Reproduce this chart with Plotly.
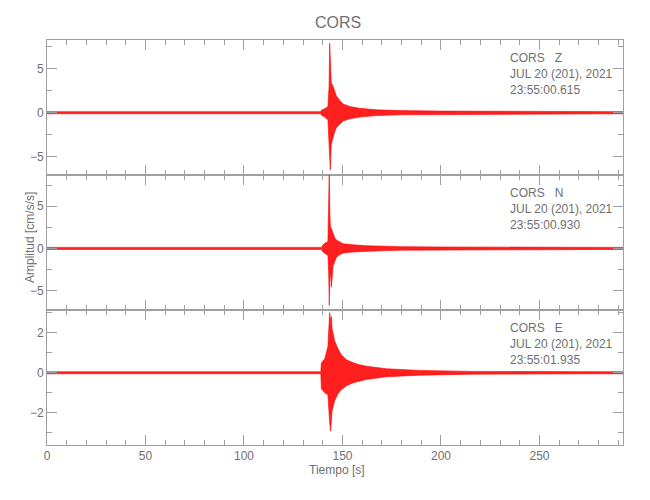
import plotly.graph_objects as go
from plotly.subplots import make_subplots

# ---- data: min/max envelope of each trace ----
t_end = 292.4

z_time  = [0, 139.0, 139.4, 141.0, 142.6, 143.2, 143.5, 143.8, 144.3, 145.2, 146.0, 146.9, 148.6, 150.3, 153.7, 158.7, 167.2, 179.0, 200.0, 240.0, 292.4]
z_upper = [0.12, 0.12, 0.3, 0.45, 0.7, 3.0, 7.9, 5.0, 3.4, 3.0, 2.4, 1.9, 1.4, 1.0, 0.7, 0.5, 0.33, 0.24, 0.18, 0.14, 0.12]
z_lower = [-0.12, -0.12, -0.3, -0.5, -0.8, -3.0, -5.0, -6.5, -3.6, -2.8, -2.2, -1.7, -1.3, -0.95, -0.7, -0.5, -0.33, -0.24, -0.18, -0.14, -0.12]

n_time  = [0, 139.5, 139.8, 141.0, 142.6, 143.0, 143.3, 143.6, 143.9, 144.4, 145.2, 146.0, 146.9, 148.6, 150.3, 155.4, 162.1, 172.3, 179.0, 200.0, 240.0, 292.4]
n_upper = [0.12, 0.12, 0.35, 0.6, 0.8, 4.5, 9.5, 4.0, 2.6, 2.3, 1.7, 1.3, 1.0, 0.75, 0.55, 0.42, 0.32, 0.26, 0.21, 0.17, 0.14, 0.12]
n_lower = [-0.12, -0.12, -0.35, -0.6, -0.8, -3.0, -6.75, -3.5, -2.7, -4.6, -2.1, -1.5, -1.05, -0.75, -0.55, -0.42, -0.32, -0.26, -0.21, -0.17, -0.14, -0.12]

e_time  = [0, 139.0, 139.3, 141.0, 142.6, 143.2, 143.5, 144.0, 144.4, 144.7, 146.0, 147.7, 149.4, 152.0, 155.4, 158.7, 162.1, 172.3, 189.2, 215.0, 292.4]
e_upper = [0.05, 0.05, 0.5, 0.7, 1.3, 2.7, 3.0, 2.6, 2.8, 2.2, 1.6, 1.2, 0.9, 0.65, 0.5, 0.4, 0.33, 0.2, 0.12, 0.07, 0.05]
e_lower = [-0.05, -0.05, -0.8, -1.0, -1.1, -2.1, -2.5, -2.9, -2.2, -1.9, -1.4, -1.05, -0.85, -0.65, -0.5, -0.4, -0.33, -0.2, -0.12, -0.07, -0.05]

station = "CORS"
components = ["Z", "N", "E"]
date_label = "JUL 20 (201), 2021"
start_times = ["23:55:00.615", "23:55:00.930", "23:55:01.935"]
y_ranges = [[-7.08, 8.26], [-7.3, 8.7], [-3.6, 3.13]]
y_dticks = [5, 5, 2]
x_ticks = [0, 50, 100, 150, 200, 250]

FONT = "Liberation Sans, Arial, sans-serif"
TXT = "#707070"
AX = "#a0a0a0"

fig = make_subplots(rows=3, cols=1, shared_xaxes=True, vertical_spacing=0)

traces = [(z_time, z_upper, z_lower), (n_time, n_upper, n_lower), (e_time, e_upper, e_lower)]
for i, (tt, up, lo) in enumerate(traces, start=1):
    fig.add_trace(go.Scatter(
        x=tt + tt[::-1], y=up + lo[::-1],
        mode="lines", fill="toself",
        line=dict(color="#ff0000", width=0.6),
        fillcolor="rgba(255,0,0,0.88)",
        hoverinfo="skip", showlegend=False), row=i, col=1)

for i in range(1, 4):
    d = y_dticks[i - 1]
    fig.update_yaxes(row=i, col=1, range=y_ranges[i - 1], dtick=d, tick0=0,
                     ticks="inside", ticklen=10, tickcolor=AX, tickwidth=1,
                     minor=dict(dtick=d / 2, ticks="inside", ticklen=5, tickcolor=AX),
                     showline=True, linecolor=AX, linewidth=1, mirror="ticks",
                     showgrid=False, zeroline=False, automargin=False,
                     tickfont=dict(family=FONT, size=12, color=TXT))
    fig.update_xaxes(row=i, col=1, range=[0, t_end], tickvals=x_ticks,
                     ticks="inside", ticklen=10, tickcolor=AX, tickwidth=1,
                     minor=dict(dtick=10, tick0=0, ticks="inside", ticklen=5, tickcolor=AX),
                     showline=True, linecolor=AX, linewidth=1, mirror="ticks",
                     showgrid=False, zeroline=False, automargin=False,
                     tickfont=dict(family=FONT, size=12, color=TXT))

PW, PH = 576.0, 405.0   # plot area size in px
annos = []
panel_h = 135.0
for i in range(3):
    yaxis = "y" if i == 0 else f"y{i+1}"
    lines = [f"{station}\u00a0\u00a0\u00a0{components[i]}", date_label, start_times[i]]
    for k, txt in enumerate(lines):
        off = 17.5 + 16 * k
        annos.append(dict(text=txt, xref="x domain", yref=f"{yaxis} domain",
                          x=461 / PW, y=1 - off / panel_h,
                          xanchor="left", yanchor="middle", showarrow=False,
                          font=dict(family=FONT, size=12, color=TXT)))

annos.append(dict(text="Amplitud [cm/s/s]", xref="paper", yref="paper",
                  x=-17 / PW, y=207 / PH, textangle=-90,
                  xanchor="center", yanchor="middle", showarrow=False,
                  font=dict(family=FONT, size=12, color=TXT)))
annos.append(dict(text="Tiempo [s]", xref="paper", yref="paper",
                  x=290 / PW, y=-25 / PH,
                  xanchor="center", yanchor="middle", showarrow=False,
                  font=dict(family=FONT, size=12, color=TXT)))

fig.update_layout(
    width=650, height=500,
    margin=dict(l=39, r=35, t=32, b=63),
    paper_bgcolor="white", plot_bgcolor="white",
    title=dict(text=station, x=330 / 650, xanchor="center", y=1 - 14 / 500, yanchor="middle",
               font=dict(family=FONT, size=16, color=TXT)),
    annotations=annos,
    showlegend=False,
)

fig.write_html("out.html")
